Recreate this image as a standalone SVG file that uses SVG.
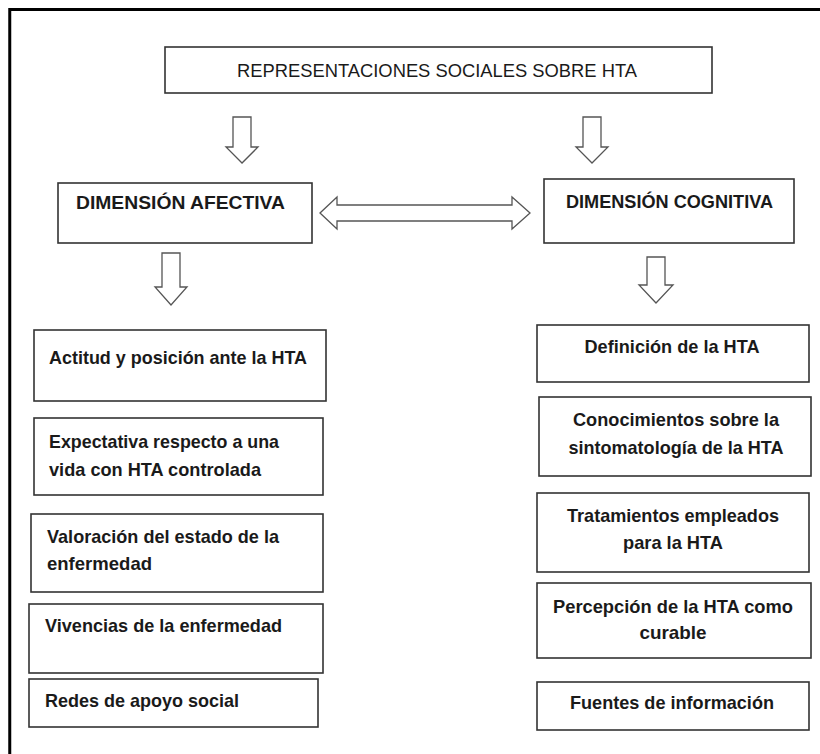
<svg xmlns="http://www.w3.org/2000/svg" width="820" height="754" viewBox="0 0 820 754">
<style>
.box{fill:#fff;stroke:#333;stroke-width:1.6}
.arr{fill:#fff;stroke:#555;stroke-width:1.3;stroke-linejoin:miter}
text{font-family:"Liberation Sans Narrow","Liberation Sans",Arial,sans-serif;fill:#1a1a1a}
.t{font-size:19px;font-weight:bold}
.h{font-size:17.5px;font-weight:bold}
.ti{font-size:18px}
.c{text-anchor:middle}
</style>
<rect x="0" y="0" width="820" height="754" fill="#fff"/>
<path d="M9.75,754 V9.5 H820" fill="none" stroke="#000" stroke-width="3"/>
<g id="connectors">
<polygon class="arr" points="233,117 251,117 251,147 258,147 242,163 226,147 233,147"/>
<polygon class="arr" points="583,117 601,117 601,147 608,147 592,163 576,147 583,147"/>
<polygon class="arr" points="162,253 180,253 180,287 187,287 171,305 155,287 162,287"/>
<polygon class="arr" points="647,257 665,257 665,285 673,285 656,303 639,285 647,285"/>
<polygon class="arr" points="320,213 337,197 337,205 512,205 512,197 530,213 512,229 512,221 337,221 337,229"/>
</g>
<g id="title">
<rect class="box" x="165" y="47" width="547" height="46"/>
<text class="ti" x="237" y="77" textLength="400" lengthAdjust="spacingAndGlyphs">REPRESENTACIONES SOCIALES SOBRE HTA</text>
</g>
<g id="afectiva">
<rect class="box" x="58" y="183" width="254" height="60"/>
<text class="h" x="76" y="209" textLength="209" lengthAdjust="spacingAndGlyphs">DIMENSIÓN AFECTIVA</text>
</g>
<g id="cognitiva">
<rect class="box" x="544" y="179" width="250" height="64"/>
<text class="h" x="566" y="208" textLength="207" lengthAdjust="spacingAndGlyphs">DIMENSIÓN COGNITIVA</text>
</g>
<g id="a1">
<rect class="box" x="34" y="330" width="292" height="71"/>
<text class="t" x="49" y="364" textLength="258" lengthAdjust="spacingAndGlyphs">Actitud y posición ante la HTA</text>
</g>
<g id="a2">
<rect class="box" x="34" y="418" width="289" height="77"/>
<text class="t" x="49" y="448" textLength="230" lengthAdjust="spacingAndGlyphs">Expectativa respecto a una</text>
<text class="t" x="49" y="476" textLength="212" lengthAdjust="spacingAndGlyphs">vida con HTA controlada</text>
</g>
<g id="a3">
<rect class="box" x="31" y="514" width="292" height="78"/>
<text class="t" x="47" y="543" textLength="232" lengthAdjust="spacingAndGlyphs">Valoración del estado de la</text>
<text class="t" x="47" y="570" textLength="105" lengthAdjust="spacingAndGlyphs">enfermedad</text>
</g>
<g id="a4">
<rect class="box" x="29" y="604" width="294" height="69"/>
<text class="t" x="45" y="632" textLength="237" lengthAdjust="spacingAndGlyphs">Vivencias de la enfermedad</text>
</g>
<g id="a5">
<rect class="box" x="29" y="679" width="289" height="48"/>
<text class="t" x="45" y="707" textLength="194" lengthAdjust="spacingAndGlyphs">Redes de apoyo social</text>
</g>
<g id="c1">
<rect class="box" x="537" y="325" width="272" height="57"/>
<text class="t c" x="672" y="353" textLength="175" lengthAdjust="spacingAndGlyphs">Definición de la HTA</text>
</g>
<g id="c2">
<rect class="box" x="539" y="397" width="272" height="79"/>
<text class="t c" x="676" y="426" textLength="206" lengthAdjust="spacingAndGlyphs">Conocimientos sobre la</text>
<text class="t c" x="676" y="454" textLength="215" lengthAdjust="spacingAndGlyphs">sintomatología de la HTA</text>
</g>
<g id="c3">
<rect class="box" x="537" y="493" width="272" height="79"/>
<text class="t c" x="673" y="522" textLength="212" lengthAdjust="spacingAndGlyphs">Tratamientos empleados</text>
<text class="t c" x="673" y="549" textLength="100" lengthAdjust="spacingAndGlyphs">para la HTA</text>
</g>
<g id="c4">
<rect class="box" x="537" y="583" width="274" height="75"/>
<text class="t c" x="673" y="613" textLength="240" lengthAdjust="spacingAndGlyphs">Percepción de la HTA como</text>
<text class="t c" x="673" y="639" textLength="67" lengthAdjust="spacingAndGlyphs">curable</text>
</g>
<g id="c5">
<rect class="box" x="537" y="682" width="272" height="48"/>
<text class="t c" x="672" y="709" textLength="204" lengthAdjust="spacingAndGlyphs">Fuentes de información</text>
</g>
</svg>
